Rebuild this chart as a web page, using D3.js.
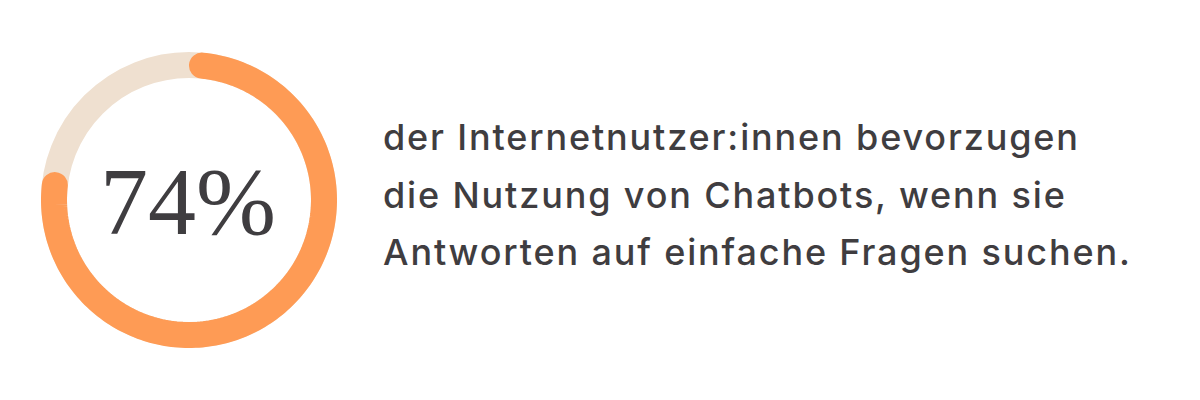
<!DOCTYPE html>
<html>
<head>
<meta charset="utf-8">
<script src="https://cdn.jsdelivr.net/npm/d3@7"></script>
<style>
  html, body { margin: 0; padding: 0; background: #ffffff; }
  svg { display: block; }
</style>
</head>
<body>
<svg id="chart" width="1200" height="400"></svg>
<script>
// ---- data ----
const percentValue = 74;
const percentLabel = ["74%"];
const descriptionLines = [
  "der Internetnutzer:innen bevorzugen",
  "die Nutzung von Chatbots, wenn sie",
  "Antworten auf einfache Fragen suchen."
];

// ---- layout ----
const W = 1200, H = 400;
const cx = 189, cy = 200;
const ringR = 135, ringW = 26;
const capOffset = (ringW / 2) / ringR;

const svg = d3.select("#chart");
svg.append("rect").attr("width", W).attr("height", H).attr("fill", "#ffffff");

const angle = d3.scaleLinear().domain([0, 100]).range([0, 2 * Math.PI]);

const g = svg.append("g").attr("transform", `translate(${cx},${cy})`);

g.append("circle")
  .attr("r", ringR)
  .attr("fill", "none")
  .attr("stroke", "#efe0d0")
  .attr("stroke-width", ringW);

const a0 = capOffset;
const a1 = capOffset + angle(percentValue) + capOffset * 0.8;
const nPts = 200;
const pts = d3.range(nPts + 1).map(i => {
  const t = a0 + (a1 - a0) * i / nPts;
  return [ringR * Math.sin(t), -ringR * Math.cos(t)];
});
g.append("path")
  .attr("d", d3.line()(pts))
  .attr("fill", "none")
  .attr("stroke", "#fe9b55")
  .attr("stroke-width", ringW)
  .attr("stroke-linecap", "round");

g.selectAll("text.pct")
  .data(percentLabel)
  .join("text")
  .attr("class", "pct")
  .attr("x", -1)
  .attr("y", 34)
  .attr("text-anchor", "middle")
  .attr("font-family", "'Liberation Serif', 'DejaVu Serif', serif")
  .attr("font-size", 96)
  .attr("fill", "#3f3d40")
  .text(d => d);

const lineY = d3.scalePoint().domain(d3.range(descriptionLines.length)).range([150, 265]);
const desc = svg.selectAll("text.desc")
  .data(descriptionLines)
  .join("text")
  .attr("class", "desc")
  .attr("x", 383)
  .attr("y", (d, i) => lineY(i))
  .attr("font-family", "Inter, 'Noto Sans', sans-serif")
  .attr("font-size", 36)
  .attr("font-weight", 500)
  .attr("fill", "#3f3d40")
  .text(d => d);

const targetW = 695;
const first = desc.nodes()[0];
const natW = first.getComputedTextLength();
const ls = (targetW - natW) / (descriptionLines[0].length - 1);
desc.attr("letter-spacing", ls);
</script>
</body>
</html>
